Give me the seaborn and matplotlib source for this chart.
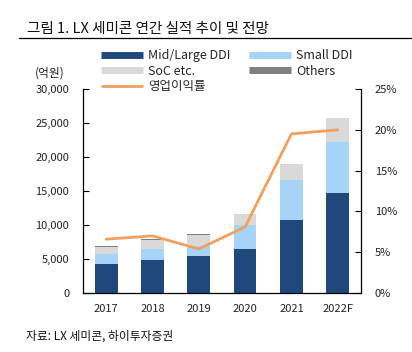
import matplotlib
matplotlib.use("Agg")
import matplotlib.pyplot as plt
from matplotlib.lines import Line2D
from matplotlib.ticker import FuncFormatter
import numpy as np
import pandas as pd
import seaborn as sns

# data (억원 / %)
years = ["2017", "2018", "2019", "2020", "2021", "2022F"]
mid_large = [4300, 4800, 5500, 6400, 10800, 14700]
small_ddi = [1450, 1700, 1400, 3550, 5800, 7500]
soc_etc = [1050, 1350, 1700, 1600, 2300, 3500]
others = [100, 100, 100, 100, 100, 100]
opm = [6.6, 7.0, 5.4, 8.1, 19.5, 20.0]

c_mid = "#1F497D"
c_small = "#A6D3F8"
c_soc = "#D9D9D9"
c_oth = "#7F7F7F"
c_line = "#F2A05E"

sns.set_theme(style="white")
plt.rcParams["font.family"] = ["Noto Sans CJK KR", "DejaVu Sans"]

df = pd.DataFrame({"year": years, "mid": mid_large, "small": small_ddi,
                   "soc": soc_etc, "oth": others})
df["l1"] = df["mid"]
df["l2"] = df["l1"] + df["small"]
df["l3"] = df["l2"] + df["soc"]
df["l4"] = df["l3"] + df["oth"]

fig = plt.figure(figsize=(4.12, 3.52), dpi=100)
ax = fig.add_axes([0.2015, 0.1676, 0.6745, 0.5795])

# stacked bars drawn back to front
for col, color in [("l4", c_oth), ("l3", c_soc), ("l2", c_small), ("l1", c_mid)]:
    sns.barplot(data=df, x="year", y=col, color=color, width=0.49,
                saturation=1, ax=ax, linewidth=0)

ax.set_xlim(-0.5, 5.5)
ax.set_ylim(0, 30000)
ax.set_yticks(np.arange(0, 30001, 5000))
ax.yaxis.set_major_formatter(FuncFormatter(lambda v, p: f"{int(v):,}"))
ax.set_xlabel("")
ax.set_ylabel("")
ax.set_xticks(np.arange(0.5, 5.0, 1.0), minor=True)
ax.tick_params(axis="x", which="major", length=0, labelsize=8, pad=8, colors="#222222")
ax.tick_params(axis="x", which="minor", direction="in", length=4, width=0.8, color="black")
ax.tick_params(axis="y", direction="in", length=4, width=0.8, labelsize=8,
               left=True, pad=10, colors="#222222")
ax.tick_params(axis="y", color="black")
for s in ["left", "bottom"]:
    ax.spines[s].set_color("black")
    ax.spines[s].set_linewidth(0.9)
ax.spines["top"].set_visible(False)
ax.spines["right"].set_visible(False)

ax2 = ax.twinx()
sns.lineplot(x=np.arange(len(years)), y=opm, color=c_line, linewidth=2, ax=ax2)
ax2.set_ylim(0, 25)
ax2.set_xlim(-0.5, 5.5)
ax2.set_yticks(np.arange(0, 26, 5))
ax2.yaxis.set_major_formatter(FuncFormatter(lambda v, p: f"{int(v)}%"))
ax2.tick_params(axis="y", direction="in", length=4, width=0.8, labelsize=8,
                right=True, pad=10, colors="#222222")
ax2.tick_params(axis="y", color="black")
ax2.spines["right"].set_color("black")
ax2.spines["right"].set_linewidth(0.9)
for s in ["left", "top", "bottom"]:
    ax2.spines[s].set_visible(False)

# legend
handles = [
    Line2D([0], [0], color=c_mid, lw=5, solid_capstyle="butt"),
    Line2D([0], [0], color=c_soc, lw=5, solid_capstyle="butt"),
    Line2D([0], [0], color=c_line, lw=2, solid_capstyle="butt"),
    Line2D([0], [0], color=c_small, lw=5, solid_capstyle="butt"),
    Line2D([0], [0], color=c_oth, lw=5, solid_capstyle="butt"),
]
labels = ["Mid/Large DDI", "SoC etc.", "영업이익률", "Small DDI", "Others"]
fig.legend(handles, labels, ncol=2, loc="upper left", bbox_to_anchor=(0.245, 0.86),
           frameon=False, fontsize=9, handlelength=3.4, handletextpad=0.35,
           columnspacing=1.5, labelspacing=0.2, borderaxespad=0, borderpad=0)

fig.text(0.085, 0.782, "(억원)", fontsize=8.5, color="#222222")
fig.text(0.065, 0.905, "그림 1. LX 세미콘 연간 실적 추이 및 전망", fontsize=10.5,
         color="#111111", fontweight="medium")
fig.add_artist(Line2D([0.045, 1.0], [0.892, 0.892], color="black", lw=0.9,
                      transform=fig.transFigure))
fig.text(0.063, 0.035, "자료: LX 세미콘, 하이투자증권", fontsize=8.5, color="#111111")

fig.savefig("out.png", dpi=100)
